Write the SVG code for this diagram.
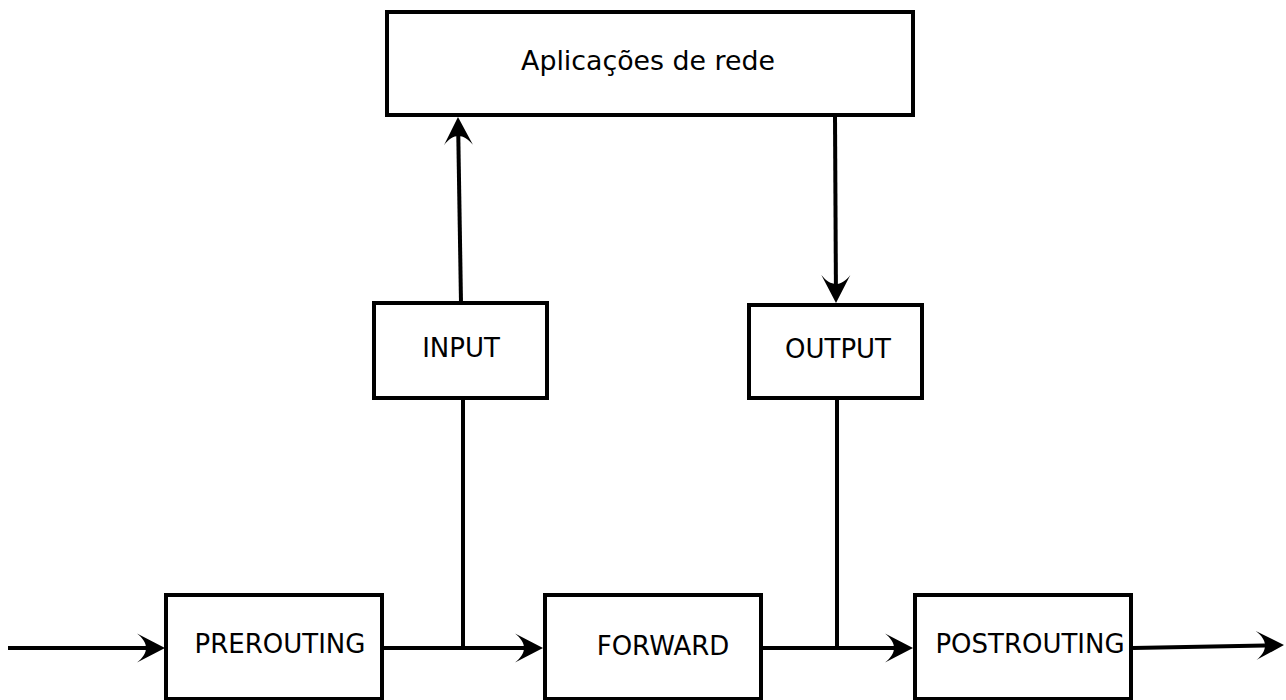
<svg xmlns="http://www.w3.org/2000/svg" width="1286" height="700" viewBox="0 0 1286 700">
  <style>
    .box { fill: #ffffff; stroke: #000000; stroke-width: 4; }
    .lbl { font-family: "DejaVu Sans", "Liberation Sans", sans-serif; font-size: 26px; fill: #000000; text-anchor: middle; }
    .wire { fill: none; stroke: #000000; stroke-width: 4; }
    .arr { marker-end: url(#head); }
  </style>
  <defs>
    <!-- concave-backed arrowhead; path end sits in the notch -->
    <marker id="head" markerUnits="userSpaceOnUse" markerWidth="30" markerHeight="30" viewBox="-28 -15 30 30" refX="-19" refY="0" orient="auto" overflow="visible">
      <path d="M0,0 L-28,-14.5 C-16,-5 -16,5 -28,14.5 Z" fill="#000000"/>
    </marker>
  </defs>
  <rect width="1286" height="700" fill="#ffffff"/>

  <g id="connectors">
    <line class="wire arr" x1="8" y1="648" x2="146" y2="648"/>
    <line class="wire arr" x1="383" y1="648" x2="524" y2="648"/>
    <line class="wire arr" x1="761" y1="648" x2="894" y2="648"/>
    <line class="wire arr" x1="1133" y1="648" x2="1265" y2="645.4"/>
    <line class="wire" x1="463" y1="398" x2="463" y2="648"/>
    <line class="wire arr" x1="461" y1="303" x2="458.3" y2="136"/>
    <line class="wire" x1="837" y1="398" x2="837" y2="648"/>
    <line class="wire arr" x1="835" y1="117" x2="835.9" y2="284"/>
  </g>

  <g id="aplicacoes">
    <rect class="box" x="387" y="12" width="526" height="103"/>
    <text class="lbl" x="648" y="70" style="font-size:26.8px">Aplicações de rede</text>
  </g>
  <g id="input">
    <rect class="box" x="374" y="303" width="173" height="95"/>
    <text class="lbl" x="461" y="357">INPUT</text>
  </g>
  <g id="output">
    <rect class="box" x="749" y="305" width="173" height="93"/>
    <text class="lbl" x="838" y="358">OUTPUT</text>
  </g>
  <g id="prerouting">
    <rect class="box" x="166" y="595" width="216" height="104"/>
    <text class="lbl" x="280" y="653">PREROUTING</text>
  </g>
  <g id="forward">
    <rect class="box" x="545" y="595" width="216" height="104"/>
    <text class="lbl" x="663" y="655">FORWARD</text>
  </g>
  <g id="postrouting">
    <rect class="box" x="915" y="595" width="216" height="104"/>
    <text class="lbl" x="1030" y="653">POSTROUTING</text>
  </g>
</svg>
